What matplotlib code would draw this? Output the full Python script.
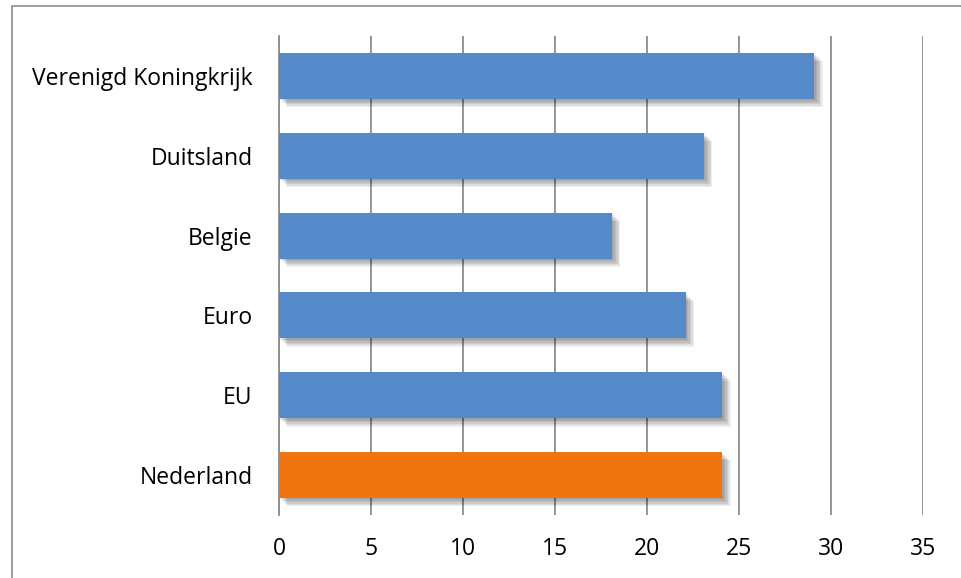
import matplotlib
matplotlib.use("Agg")
import matplotlib.pyplot as plt
import matplotlib.patheffects as pe
from matplotlib.patches import Rectangle

categories = ["Nederland", "EU", "Euro", "Belgie", "Duitsland", "Verenigd Koningkrijk"]
values = [24.1, 24.1, 22.1, 18.1, 23.1, 29.1]
colors = ["#F07511", "#5589C9", "#5589C9", "#5589C9", "#5589C9", "#5589C9"]
xticks = [0, 5, 10, 15, 20, 25, 30, 35]

plt.rcParams['font.family'] = ['Open Sans', 'DejaVu Sans']

fig = plt.figure(figsize=(9.62, 5.78), dpi=100)
ax = fig.add_axes([279/962, 1-515/578, (923-279)/962, (515-36)/578])

shadow = [pe.SimplePatchShadow(offset=(d, -d), shadow_rgbFace='#000000', alpha=0.07) for d in (1, 2, 3, 4, 5, 6)]
shadow.append(pe.Normal())

bars = ax.barh(range(len(categories)), values, height=0.575, color=colors, zorder=3)
for b in bars:
    b.set_path_effects(shadow)

ax.set_xlim(0, 35)
ax.set_ylim(-0.5, len(categories) - 0.5)
ax.set_xticks(xticks)
ax.set_xticklabels([str(t) for t in xticks])
ax.set_yticks(range(len(categories)))
ax.set_yticklabels(categories)
ax.tick_params(axis='both', length=0, labelsize=16.5, colors='#000000')
ax.tick_params(axis='y', pad=19)
ax.tick_params(axis='x', pad=16)
ax.grid(axis='x', color='#8C8C8C', linewidth=1.3, zorder=0)
ax.set_axisbelow(True)
for s in ['top', 'right', 'bottom']:
    ax.spines[s].set_visible(False)
ax.spines['left'].set_color('#8C8C8C')
ax.spines['left'].set_linewidth(1.3)

fig.patches.append(Rectangle((12/962, -0.1), 1.2, 1.1 - 6/578, transform=fig.transFigure,
                             fill=False, edgecolor='#8C8C8C', linewidth=1.2))

fig.savefig("out.png", dpi=100)
